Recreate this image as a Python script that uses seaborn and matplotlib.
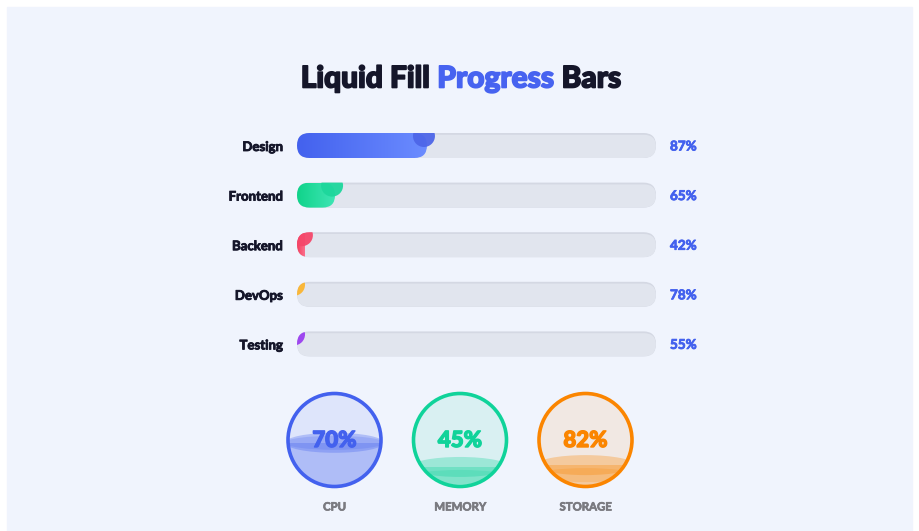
import numpy as np
import seaborn as sns
import matplotlib.pyplot as plt
import matplotlib.patheffects as pe
from matplotlib.patches import FancyBboxPatch, Circle, Ellipse, Rectangle
from matplotlib.colors import LinearSegmentedColormap

# progress bars
skills = ["Design", "Frontend", "Backend", "DevOps", "Testing"]
targets = [87, 65, 42, 78, 55]            # value printed at the right
filled = [36.2, 10.6, 2.2, 0, 0]          # how far the liquid has got so far (% of track)
bar_cols = [("#4361ee", "#6b8cff"), ("#10d38a", "#40e6b6"), ("#f43f5e", "#fb6f8c"),
            ("#f59e0b", "#fbbf24"), ("#9333ea", "#a855f7")]
bubble_cols = ["#4d66e8", "#1dd79c", "#f5476a", "#fbb530", "#9b3ff0"]

# liquid gauges
gauges = ["CPU", "MEMORY", "STORAGE"]
gauge_vals = [70, 45, 82]
gauge_level = [47, 21, 23]                # liquid height currently shown (% of circle)
gauge_cols = ["#4361ee", "#10d39a", "#fb8500"]

sns.set_theme(style="white")
plt.rcParams["font.family"] = ["Lato", "DejaVu Sans"]


def thick(color, lw=0.8):
    return [pe.withStroke(linewidth=lw, foreground=color)]


fig = plt.figure(figsize=(9.2, 5.31), dpi=100, facecolor="white")
ax = fig.add_axes([0, 0, 1, 1])
ax.set_xlim(0, 920)
ax.set_ylim(531, 0)
ax.axis("off")

ax.add_patch(Rectangle((7, 7), 905, 530, color="#f0f4fd", zorder=0))

# title, three pieces laid side by side
pieces = [("Liquid Fill ", "#15162a"), ("Progress", "#4763f0"), (" Bars", "#15162a")]
rend = fig.canvas.get_renderer()
objs = []
for s, c in pieces:
    t = ax.text(0, 78.5, s, ha="left", va="center", fontsize=21.5, weight="black", color=c,
                path_effects=thick(c, 1.2))
    objs.append(t)
widths = [t.get_window_extent(rend).width for t in objs]
x = 461 - sum(widths) / 2
for t, w in zip(objs, widths):
    t.set_x(x)
    x += w

x0, tw, th = 297, 359, 25
row0, gap = 145.5, 49.6
for i, name in enumerate(skills):
    yc = row0 + i * gap
    top = yc - th / 2
    shade = FancyBboxPatch((x0, top), tw, th, boxstyle="round,pad=0,rounding_size=12.5",
                           fc="#d4d8e3", ec="none", zorder=1)
    ax.add_patch(shade)
    track = FancyBboxPatch((x0, top + 1.8), tw, th - 1.8, boxstyle="round,pad=0,rounding_size=12",
                           fc="#e1e5ee", ec="none", zorder=1.1)
    ax.add_patch(track)
    track.set_clip_path(shade)

    w = filled[i] / 100 * tw
    cmap = LinearSegmentedColormap.from_list("g%d" % i, bar_cols[i])
    grad = np.linspace(0, 1, 256).reshape(1, -1)
    if w > 0:
        if w >= th:
            clip = FancyBboxPatch((x0, top), w, th, boxstyle="round,pad=0,rounding_size=12.5",
                                  fc="none", ec="none", transform=ax.transData)
        else:
            clip = shade
        im = ax.imshow(grad, extent=(x0, x0 + w, top + th, top), cmap=cmap, aspect="auto", zorder=2)
        im.set_clip_path(clip)
    bub = Circle((x0 + w - 3, top + 3), 11, fc=bubble_cols[i], ec="none", alpha=0.95, zorder=2.5)
    ax.add_patch(bub)
    bub.set_clip_path(shade)

    ax.text(283, yc + 1.5, name, ha="right", va="center", fontsize=9.5, weight="bold", color="#15162a",
            path_effects=thick("#15162a", 0.6))
    ax.text(670, yc + 1, f"{targets[i]}%", ha="left", va="center", fontsize=9.7, weight="bold", color="#4361ee",
            path_effects=thick("#4361ee", 0.6))

# gauges
r = 46.5
gcy = 440
for j, name in enumerate(gauges):
    cx = 334.5 + j * 125.5
    col = gauge_cols[j]
    base = Circle((cx, gcy), r, fc="#f0f4fd", ec="none", zorder=1)
    ax.add_patch(base)
    tint = Circle((cx, gcy), r, fc=col, alpha=0.1, ec="none", zorder=1.1)
    ax.add_patch(tint)
    lvl = gcy + r - gauge_level[j] / 100 * 2 * r
    liquid = [Rectangle((cx - r, lvl), 2 * r, gcy + r - lvl + 2, fc=col, alpha=0.3, ec="none", zorder=1.2),
              Ellipse((cx, lvl), 2 * r + 6, 20, fc=col, alpha=0.3, ec="none", zorder=1.2),
              Ellipse((cx, lvl + (0 if j == 0 else 10)), 2 * r + 6, 14, fc=col, alpha=0.2, ec="none", zorder=1.3)]
    for p in liquid:
        ax.add_patch(p)
        p.set_clip_path(base)
    ax.add_patch(Circle((cx, gcy), r, fc="none", ec=col, lw=2.6, zorder=3))
    ax.text(cx, gcy + 0.5, f"{gauge_vals[j]}%", ha="center", va="center", fontsize=16, weight="black", color=col,
            zorder=4, path_effects=thick(col, 1.0))
    ax.text(cx, 507, name, ha="center", va="center", fontsize=8.2, weight="bold", color="#7a7a80",
            path_effects=thick("#7a7a80", 0.5))

fig.savefig("out.png", dpi=100, facecolor="white")
